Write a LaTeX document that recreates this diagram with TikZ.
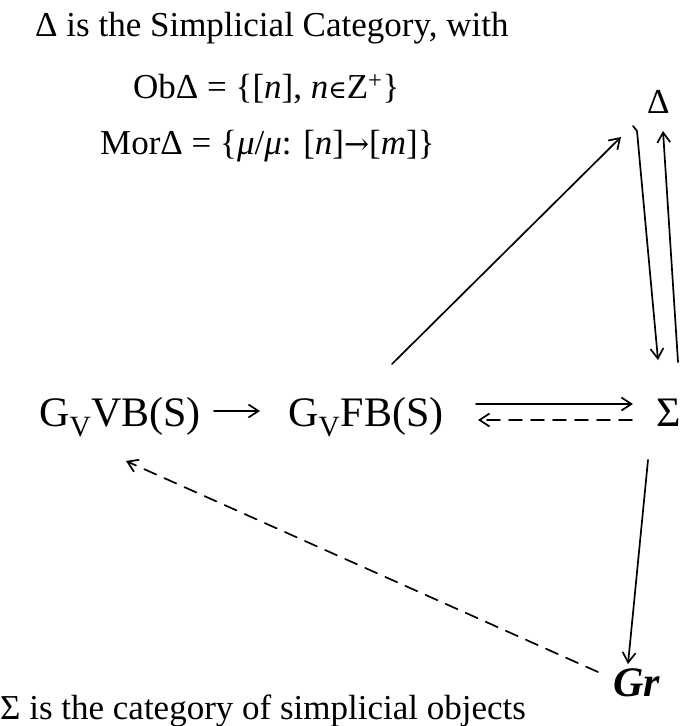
\documentclass[tikz,border=0pt]{standalone}
\usepackage{fontspec}
\setmainfont{Liberation Serif}
\newfontfamily\dvserif{DejaVu Serif}
\usetikzlibrary{arrows.meta}
\begin{document}
\begin{tikzpicture}[x=1pt,y=-1pt,
  txt/.style={inner sep=0pt, anchor=base west, font=\fontsize{35}{40}\selectfont},
  big/.style={inner sep=0pt, anchor=base west, font=\fontsize{42}{48}\selectfont},
  arr/.style={line width=1.7pt, line cap=round, -{Straight Barb[length=10pt,width=13pt,line width=1.7pt]}},
  dsh/.style={arr, dash pattern=on 13pt off 9pt}]
\useasboundingbox (0,0) rectangle (681,726);
\node[txt] (head) at (35,36) {Δ is the Simplicial Category, with};
\node[txt] (ob) at (133,98) {ObΔ = \{[\textit{n}], \textit{n}{\dvserif\fontsize{25}{25}\selectfont ∈}Z\textsuperscript{+}\}};
\node[txt] (mor) at (100,154) {MorΔ = \{\textit{μ}/\textit{μ}: [\textit{n}]{\dvserif\fontsize{30}{30}\selectfont →}[\textit{m}]\}};
\node[txt] (delta) at (647,113) {Δ};
\node[big] (gvvb) at (39,426) {G\textsubscript{V}VB(S)};
\node[big] (gvfb) at (288,426) {G\textsubscript{V}F\kern1ptB(S)};
\node[big] (sigma) at (656,426) {Σ};
\node[big] (gr) at (613,696) {\textbf{\textit{Gr}}};
\node[txt] (foot) at (0,719) {Σ is the category of simplicial objects};
% connector end points
\coordinate (a1) at (214,411); \coordinate (a2) at (260,411);
\coordinate (b1) at (476,404); \coordinate (b2) at (633,404);
\coordinate (c1) at (632,420); \coordinate (c2) at (478,420);
\coordinate (d1) at (392,364); \coordinate (d2) at (621,137);
\coordinate (e0) at (633,126);
\coordinate (e1) at (637,131); \coordinate (e2) at (658,360);
\coordinate (f1) at (678,362); \coordinate (f2) at (663,131);
\coordinate (g1) at (648,460); \coordinate (g2) at (628,664);
\coordinate (h1) at (598,672); \coordinate (h2) at (126,461);
\draw[arr] (a1) -- (a2);
\draw[arr] (b1) -- (b2);
\draw[dsh] (c1) -- (c2);
\draw[arr] (d1) -- (d2);
\draw[arr] (e0) -- (e1) -- (e2);
\draw[arr] (f1) -- (f2);
\draw[arr] (g1) -- (g2);
\draw[dsh] (h1) -- (h2);
\end{tikzpicture}
\end{document}
